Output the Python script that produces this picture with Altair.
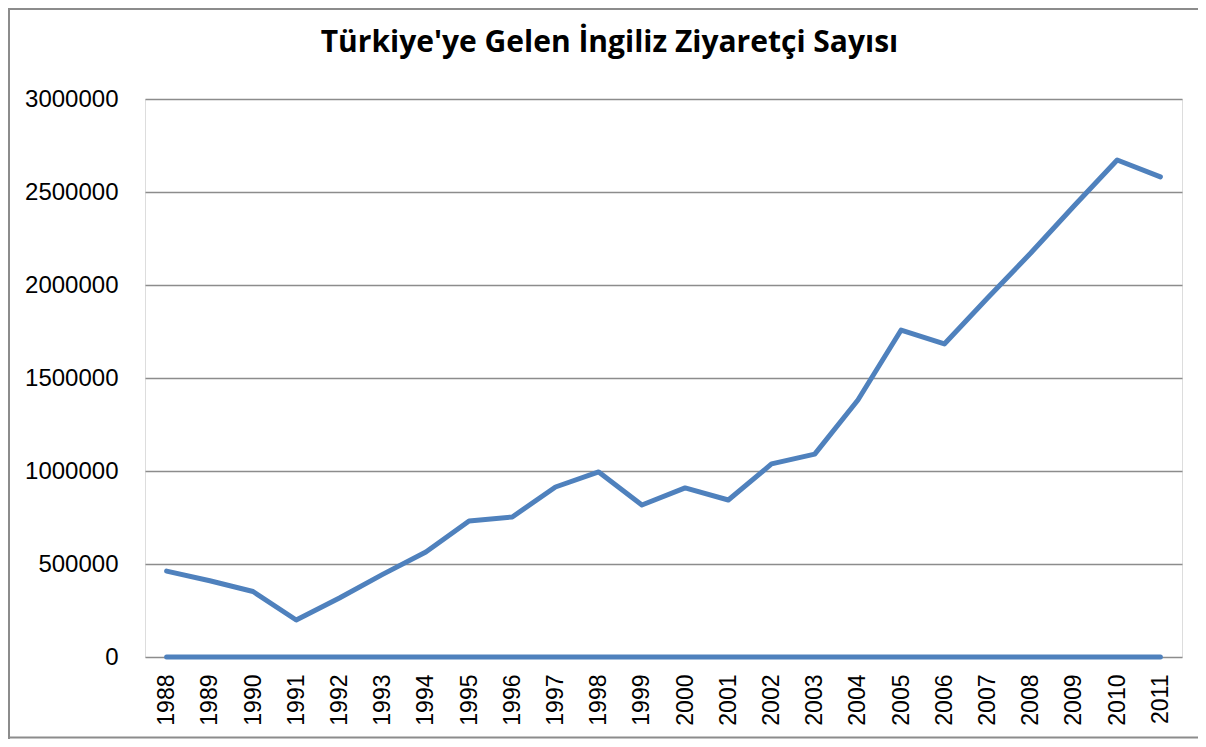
import altair as alt
import pandas as pd

years = [str(y) for y in range(1988, 2012)]
visitors = [462000, 410000, 352000, 199000, 317000, 444000, 565000, 731000,
            753000, 914000, 995000, 817000, 909000, 844000, 1038000, 1091000,
            1382000, 1758000, 1683000, 1930000, 2172000, 2425000, 2672000, 2581000]
zero_series = [0] * len(years)

series_names = ["Ziyaretçi Sayısı", "Seri 2"]
title_text = "Türkiye'ye Gelen İngiliz Ziyaretçi Sayısı"

rows = []
for y, v in zip(years, visitors):
    rows.append({"Yıl": y, "Değer": v, "Seri": series_names[0]})
for y, v in zip(years, zero_series):
    rows.append({"Yıl": y, "Değer": v, "Seri": series_names[1]})
df = pd.DataFrame(rows)

FONT = "Liberation Sans"
W, H = 1037, 558
one = pd.DataFrame({"f": [0]})

lines = alt.Chart(df).mark_line(color="#4F81BD", strokeWidth=5, strokeCap="round", strokeJoin="round").encode(
    x=alt.X("Yıl:O", sort=years, title=None,
            axis=alt.Axis(labelAngle=-90, labelFont=FONT, labelFontSize=23, labelColor="#000000",
                          labelPadding=17, ticks=False, domain=False, grid=False)),
    y=alt.Y("Değer:Q", title=None,
            scale=alt.Scale(domain=[0, 3000000], nice=False),
            axis=alt.Axis(values=[0, 500000, 1000000, 1500000, 2000000, 2500000, 3000000],
                          format="d", labelFont=FONT, labelFontSize=24, labelColor="#000000",
                          labelPadding=27, ticks=False, domain=False,
                          gridColor="#8C8C8C", gridWidth=1.5)),
    detail="Seri:N",
)

border = "#8C8C8C"
left_edge = alt.Chart(one).mark_rule(color=border, strokeWidth=2, clip=False).encode(
    x=alt.value(-136), y=alt.value(-91), y2=alt.value(640))
top_edge = alt.Chart(one).mark_rule(color=border, strokeWidth=2, clip=False).encode(
    x=alt.value(-136), x2=alt.value(W + 40), y=alt.value(-90))
bottom_edge = alt.Chart(one).mark_rule(color=border, strokeWidth=2, clip=False).encode(
    x=alt.value(-136), x2=alt.value(W + 40), y=alt.value(638.5))

title = alt.Chart(one).mark_text(text=title_text, font="Open Sans", fontSize=30, fontWeight="bold",
                                 color="#000000", align="center", baseline="alphabetic", clip=False).encode(
    x=alt.value(464.5), y=alt.value(-47))

chart = alt.layer(left_edge, top_edge, bottom_edge, lines, title).properties(
    width=W, height=H,
    autosize=alt.AutoSizeParams(type="none"),
    padding={"left": 137, "top": 91, "right": 16, "bottom": 82},
).configure_view(strokeWidth=0).configure(background="#FFFFFF")

chart.save("out.html", embed_options={"renderer": "svg", "actions": False})
